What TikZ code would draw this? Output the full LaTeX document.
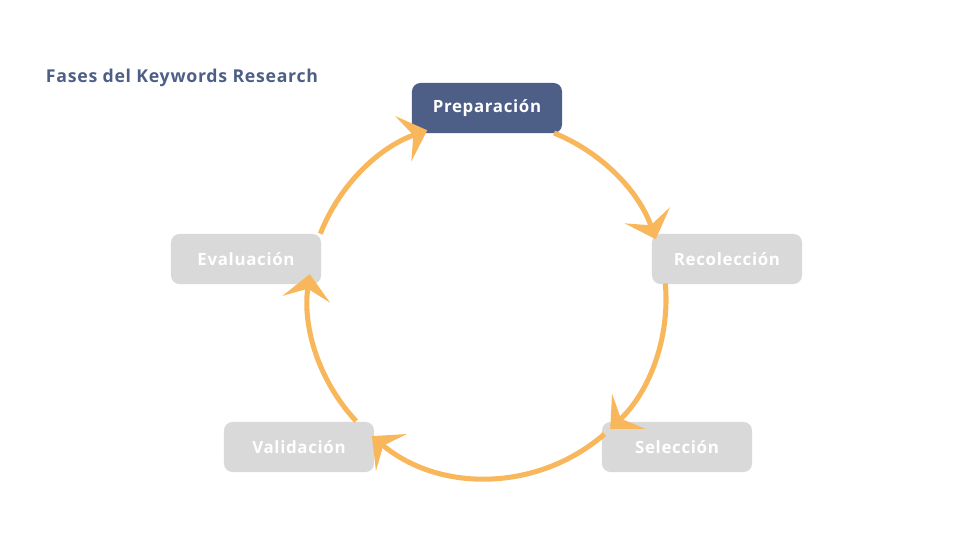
\documentclass[tikz,border=0pt]{standalone}
\usepackage{fontspec}
\setmainfont{Open Sans}[LetterSpace=4]
\usepackage{xcolor}
\usepackage{tikz}
\usetikzlibrary{arrows.meta, positioning, calc}
\definecolor{fasenavy}{RGB}{78,95,135}
\definecolor{fasegray}{RGB}{217,217,217}
\definecolor{cicloorange}{RGB}{249,183,92}

\begin{document}
\begin{tikzpicture}[x=0.025cm, y=0.025cm,
    every node/.style={font=\bfseries\fontsize{12}{14}\selectfont},
    fase/.style={fill=fasegray, text=white, rounded corners=6pt,
        minimum width=3.75cm, minimum height=1.25cm, inner sep=0pt},
    faseactiva/.style={fase, fill=fasenavy},
    ciclo/.style={cicloorange, line width=3.6pt,
        -{Stealth[length=18pt, width=34pt, inset=7.5pt]}}]
            \useasboundingbox (0,0) rectangle (960,540);
            \coordinate (centro) at (487,241);
            \node[anchor=west, text=fasenavy, font=\bfseries\fontsize{12.6}{14}\selectfont] (titulo) at (41,462) {Fases del Keywords Research};
            \node[faseactiva] (prep) at (487,432) {Preparación};
            \node[fase] (reco) at (727,281) {Recolección};
            \node[fase] (sele) at (677,93) {Selección};
            \node[fase] (vali) at (299,93) {Validación};
            \node[fase] (eval) at (246,281) {Evaluación};
            % flechas del ciclo
            \foreach \a/\b in {68/19.5, 5/-46.5, -49/-130, -137/-188, 158.6/109.5} {
                \draw[ciclo] ($(centro)+(\a:179)$) arc[start angle=\a, end angle=\b, radius=179];
            }
        \end{tikzpicture}
\end{document}
